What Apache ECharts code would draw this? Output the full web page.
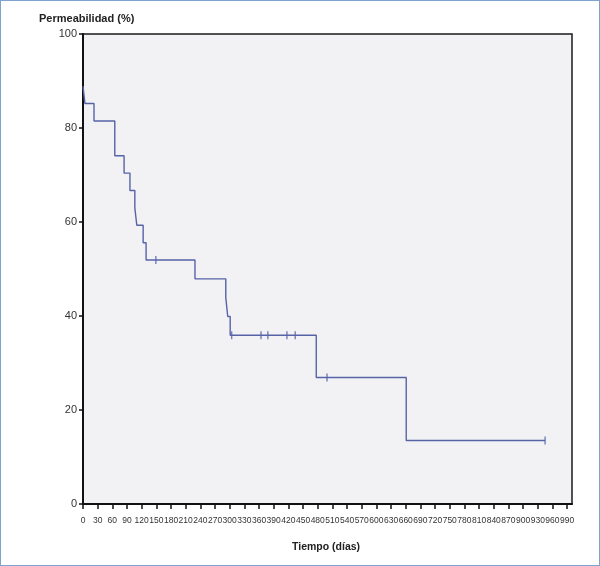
<!DOCTYPE html>
<html>
<head>
<meta charset="utf-8">
<script src="https://cdn.jsdelivr.net/npm/echarts@6/dist/echarts.min.js"></script>
<style>
html,body{margin:0;padding:0;background:#fff;}
#chart{position:absolute;left:0;top:0;width:600px;height:566px;}
#frame{position:absolute;left:0;top:0;width:598px;height:564px;border:1px solid #7fa2cf;pointer-events:none;}
</style>
</head>
<body>
<div id="chart"></div>
<div id="frame"></div>
<script>
// Kaplan-Meier step points (time in days, permeability %)
const eventTimes = [0, 4, 22.5, 65, 84, 96, 106, 110, 123, 129, 229, 292, 296, 301, 477, 661];
const survival   = [88.9, 85.2, 81.5, 74.1, 70.4, 66.7, 63.0, 59.3, 55.6, 51.9, 47.9, 43.9, 39.9, 35.9, 26.9, 13.5];
const lastTime = 945;
const censorTimes = [149, 304, 364, 378, 417, 434, 499, 945];
const xTicks = [0,30,60,90,120,150,180,210,240,270,300,330,360,390,420,450,480,510,540,570,600,630,660,690,720,750,780,810,840,870,900,930,960,990];
const yTicks = [0,20,40,60,80,100];

function survAt(t){
  let v = survival[0];
  for (let i=0;i<eventTimes.length;i++){ if (eventTimes[i] <= t) v = survival[i]; }
  return v;
}
const lineData = eventTimes.map((t,i)=>[t, survival[i]]);
lineData.push([lastTime, survival[survival.length-1]]);
const censorData = censorTimes.map(t=>[t, survAt(t)]);

const chart = echarts.init(document.getElementById('chart'));
const lineColor = '#5663a6';
chart.setOption({
  animation:false,
  grid:{left:83, right:28, top:34, bottom:62, show:true, backgroundColor:'#f2f2f4', borderColor:'#1a1a1a', borderWidth:1.5},
  title:[
    {text:'Permeabilidad (%)', left:34, top:8, textStyle:{fontFamily:'Liberation Sans, Arial, sans-serif', fontWeight:'bold', fontSize:11, color:'#222'}},
    {text:'Tiempo (días)', left:287, top:537, textStyle:{fontFamily:'Liberation Sans, Arial, sans-serif', fontWeight:'bold', fontSize:10.5, color:'#222'}}
  ],
  xAxis:{
    type:'value', min:0, max:1000,
    axisLine:{show:true, onZero:false, lineStyle:{color:'#111', width:2}},
    axisTick:{show:true, length:5, customValues:xTicks, lineStyle:{color:'#111', width:1.5}},
    axisLabel:{customValues:xTicks, hideOverlap:false, showMaxLabel:true, margin:12, fontSize:8.5, color:'#333', fontFamily:'Liberation Sans, Arial, sans-serif'},
    splitLine:{show:false}
  },
  yAxis:{
    type:'value', min:0, max:100, interval:20,
    axisLine:{show:true, onZero:false, lineStyle:{color:'#111', width:2}},
    axisTick:{show:true, length:4, lineStyle:{color:'#111', width:1.5}},
    axisLabel:{margin:6, fontSize:11, color:'#333', fontFamily:'Liberation Sans, Arial, sans-serif'},
    splitLine:{show:false}
  },
  series:[
    {type:'line', step:'end', data:lineData, showSymbol:false, symbol:'none', lineStyle:{color:lineColor, width:1.4}},
    {type:'scatter', data:censorData, symbol:'rect', symbolSize:[1.4,8], itemStyle:{color:lineColor}}
  ]
});
</script>
</body>
</html>
